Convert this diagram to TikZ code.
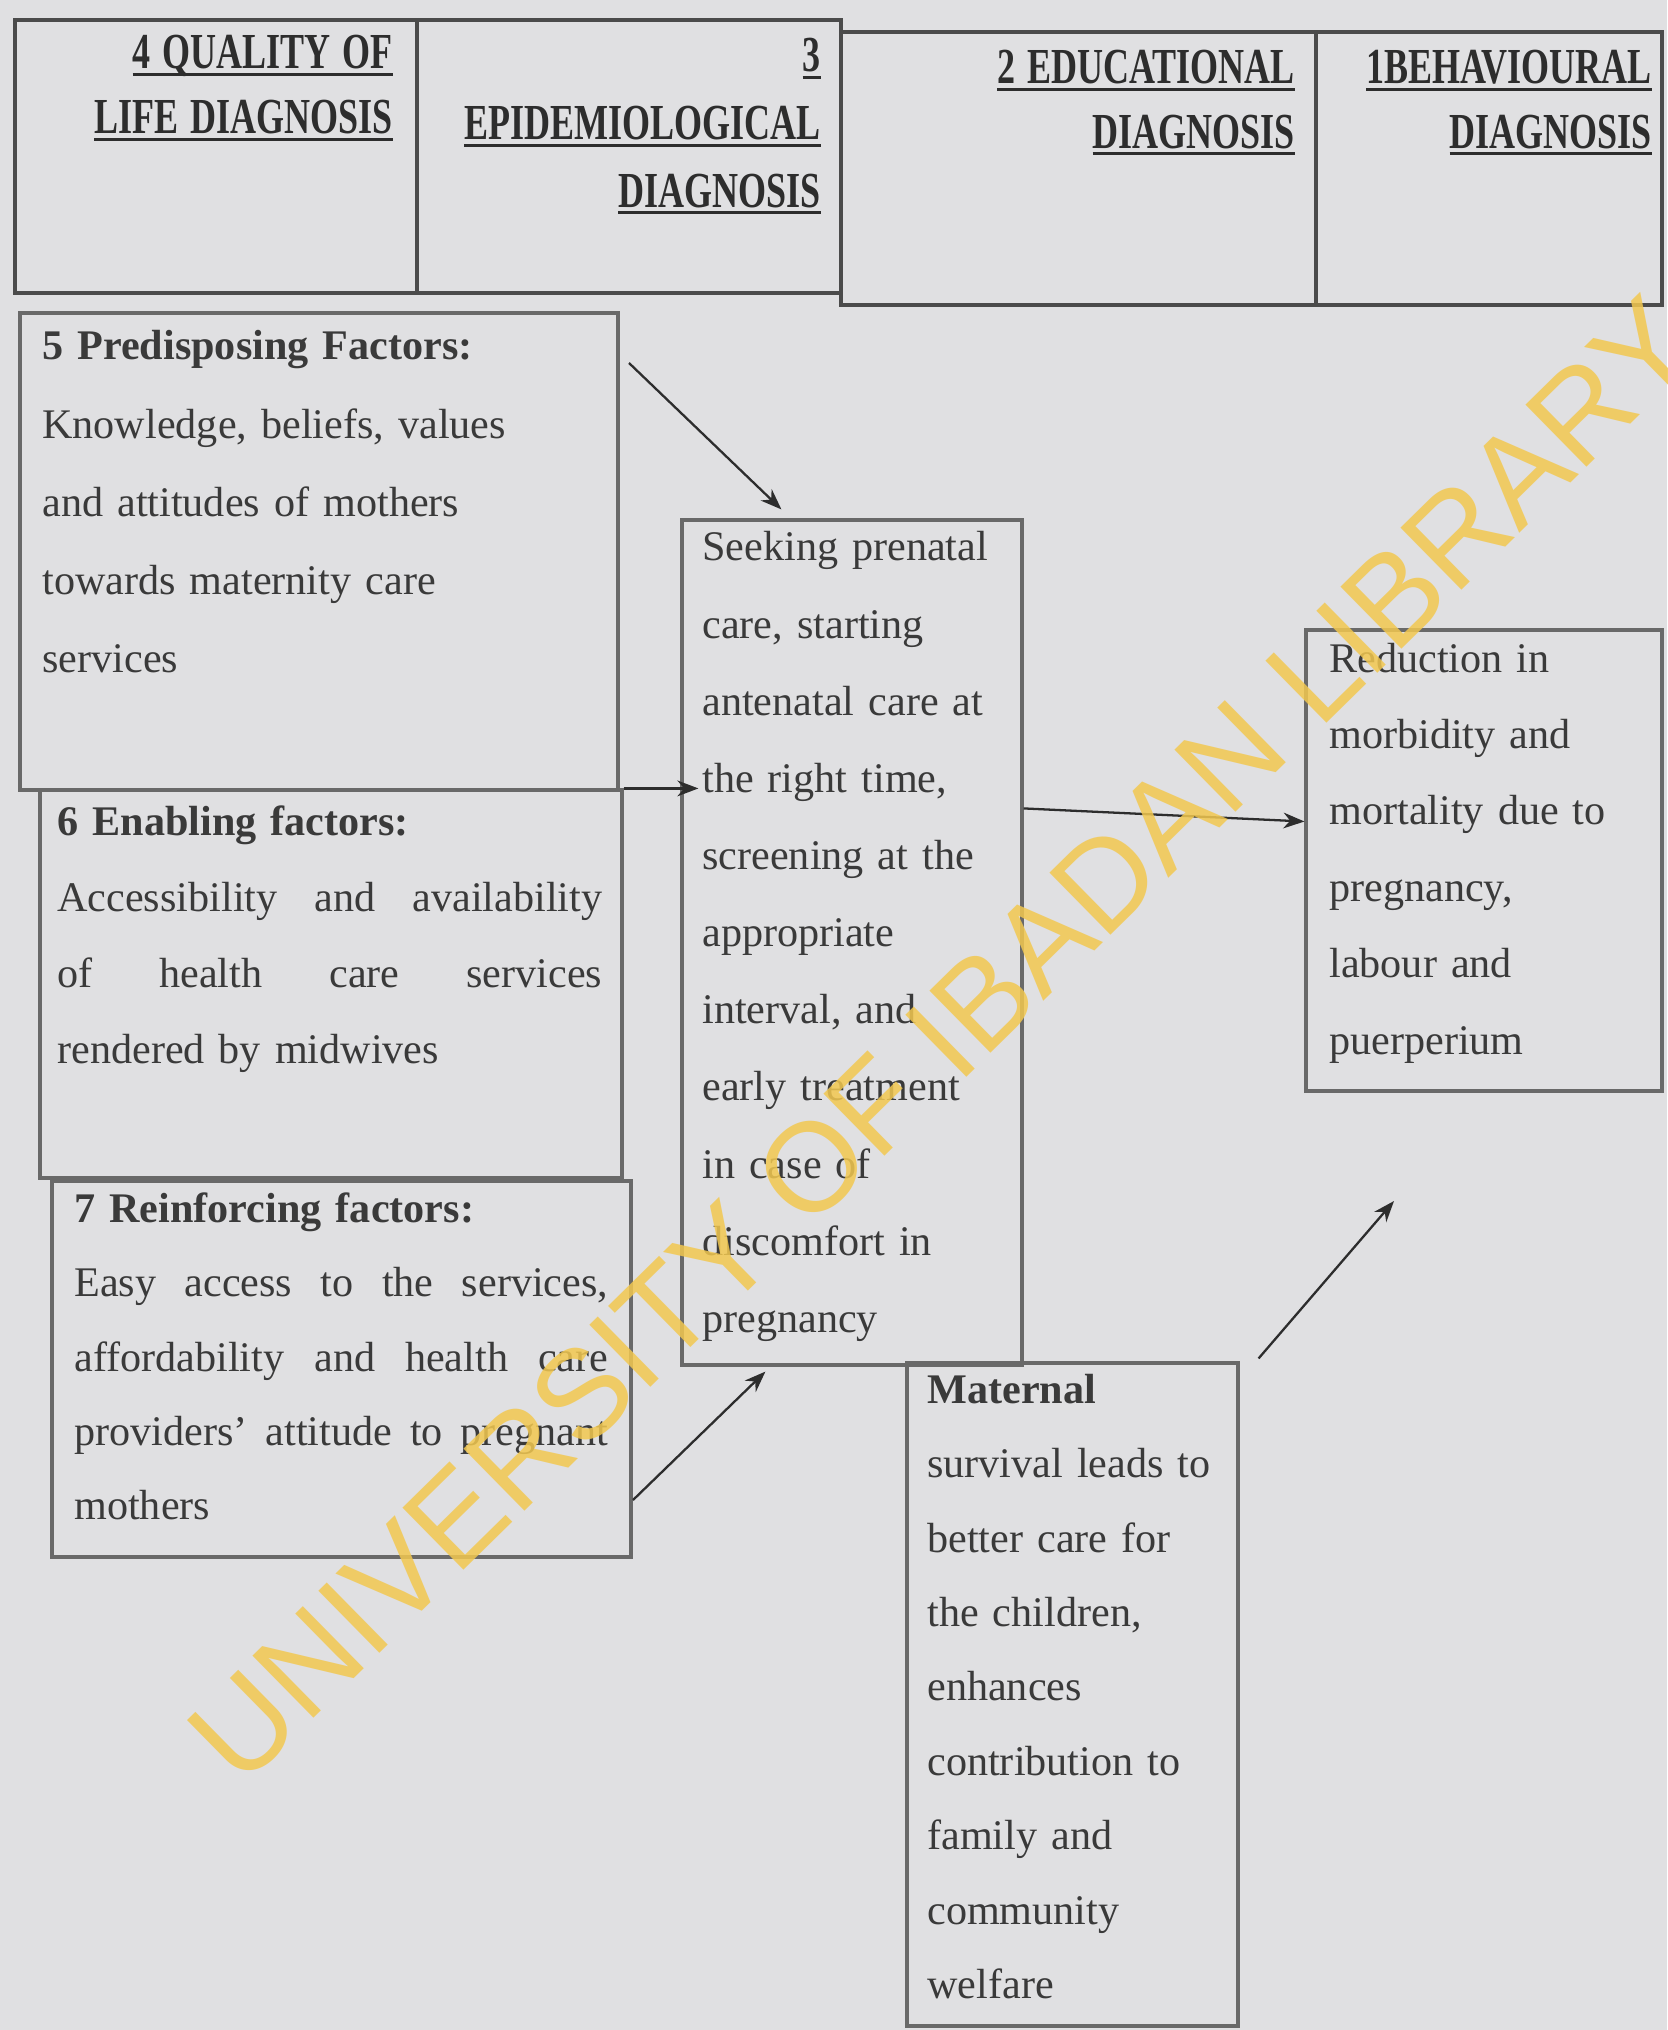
\documentclass[tikz,border=0pt]{standalone}
\usepackage{fontspec}
\usepackage{graphicx}
\setmainfont{Liberation Serif}
\newfontfamily\wmfont{Liberation Sans}
\usetikzlibrary{arrows.meta,calc,fit}
\definecolor{bgc}{RGB}{224,224,226}
\definecolor{linec}{RGB}{105,105,105}
\definecolor{hdline}{RGB}{75,75,75}
\definecolor{txtc}{RGB}{58,58,58}
\definecolor{hdtxt}{RGB}{45,45,45}
\definecolor{arrc}{RGB}{45,45,45}
\definecolor{wmc}{RGB}{242,200,80}
\newcommand{\hd}[1]{\leavevmode\setbox0=\hbox{\scalebox{1}[1.4]{#1}}\rlap{\rule[-4pt]{\wd0}{1.6pt}}\box0}
\newcommand{\jline}[2]{\leavevmode\hbox to #1{#2}}
\tikzset{
  hcell/.style={draw=hdline, line width=2pt, inner sep=0pt, rectangle},
  boxn/.style={draw=linec, line width=1.8pt, inner sep=0pt, rectangle},
  htxt/.style={inner sep=0pt, text=hdtxt, text width=9cm, align=right, anchor=base east},
  btxt/.style={inner sep=0pt, text=txtc, text width=11.5cm, align=left, anchor=base west},
  arr/.style={draw=arrc, line width=1.3pt, -{Stealth[length=12pt,width=9pt]}},
  wm/.style={text=wmc, font=\wmfont\fontsize{72}{80}\selectfont, text opacity=0.85, inner sep=0pt}
}
\begin{document}
\begin{tikzpicture}[x=0.02cm, y=-0.02cm]
\useasboundingbox (0,0) rectangle (1667,2030);
\clip (0,0) rectangle (1667,2030);
\fill[bgc] (0,0) rectangle (1667,2030);

% header cells
\node[hcell, fit={(15,20) (417,293)}] (h1) {};
\node[hcell, fit={(417,20) (841,293)}] (h2) {};
\node[hcell, fit={(841,32) (1316,305)}] (h3) {};
\node[hcell, fit={(1316,32) (1662,305)}] (h4) {};

\node[htxt, font=\bfseries\fontsize{20.5}{37}\selectfont] (h1t) at (393,69) {\hd{4 QUALITY OF}\\\hd{LIFE DIAGNOSIS}};
\node[htxt, font=\bfseries\fontsize{20.5}{38.5}\selectfont] (h2t) at (821,72) {\hd{3}\\\hd{EPIDEMIOLOGICAL}\\\hd{DIAGNOSIS}};
\node[htxt, font=\bfseries\fontsize{20.5}{36.5}\selectfont] (h3t) at (1295,84) {\hd{2 EDUCATIONAL}\\\hd{DIAGNOSIS}};
\node[htxt, font=\bfseries\fontsize{20.5}{36.5}\selectfont] (h4t) at (1652,84) {\hd{1BEHAVIOURAL}\\\hd{DIAGNOSIS}};

% boxes
\node[boxn, fit={(20,313) (618,790)}] (b5) {};
\node[boxn, fit={(40,790) (622,1178)}] (b6) {};
\node[boxn, fit={(52,1181) (631,1557)}] (b7) {};
\node[boxn, fit={(682,520) (1022,1365)}] (seek) {};
\node[boxn, fit={(1306,630) (1662,1091)}] (red) {};
\node[boxn, fit={(907,1363) (1238,2026)}] (mat) {};

% box texts
\node[btxt, font=\fontsize{24}{44.4}\selectfont] (b5t) at (42,360)
  {\textbf{5 Predisposing Factors:}\\Knowledge, beliefs, values\\and attitudes of mothers\\towards maternity care\\services};
\node[btxt, font=\fontsize{24}{43.4}\selectfont] (b6t) at (57,835)
  {\textbf{6 Enabling factors:}\\\jline{10.9cm}{Accessibility\hfill and\hfill availability}\\\jline{10.9cm}{of\hfill health\hfill care\hfill services}\\rendered by midwives};
\node[btxt, font=\fontsize{24}{42.4}\selectfont] (b7t) at (74,1222)
  {\textbf{7 Reinforcing factors:}\\\jline{10.68cm}{Easy\hfill access\hfill to\hfill the\hfill services,}\\\jline{10.68cm}{affordability\hfill and\hfill health\hfill care}\\\jline{10.68cm}{providers'\hfill attitude\hfill to\hfill pregnant}\\mothers};
\node[btxt, text width=7cm, font=\fontsize{24}{43.9}\selectfont] (seekt) at (702,561)
  {Seeking prenatal\\care, starting\\antenatal care at\\the right time,\\screening at the\\appropriate\\interval, and\\early treatment\\in case of\\discomfort in\\pregnancy};
\node[btxt, text width=7cm, font=\fontsize{24}{43.5}\selectfont] (redt) at (1329,672)
  {Reduction in\\morbidity and\\mortality due to\\pregnancy,\\labour and\\puerperium};
\node[btxt, text width=7cm, font=\fontsize{24}{42.4}\selectfont] (matt) at (927,1403)
  {\textbf{Maternal}\\survival leads to\\better care for\\the children,\\enhances\\contribution to\\family and\\community\\welfare};

% connectors
\coordinate (t5) at (629,363);
\coordinate (t7) at (633,1500);
\coordinate (redin) at (1394,1201);
\draw[arr] (t5) -- ($(seek.north west)+(101,-9)$);
\draw[arr] (b6.north east) -- ($(b6.north east -| seek.west)+(18,0)$);
\draw[arr] (t7) -- ($(seek.south west)+(85,5)$);
\draw[arr] ($(seek.north east)+(0,290)$) -- ($(red.west)+(0,-39)$);
\draw[arr] ($(mat.north east)+(19,-3)$) -- (redin);

% watermark
\node[wm, rotate=44.5] (wm) at (942,1040) {UNIVERSITY OF IBADAN LIBRARY};
\end{tikzpicture}
\end{document}
